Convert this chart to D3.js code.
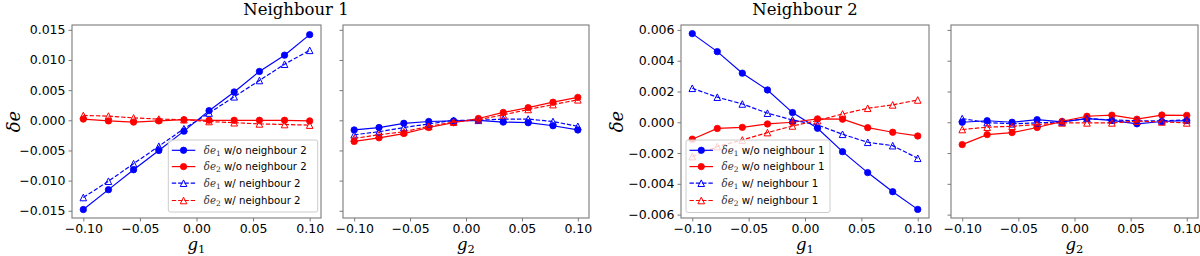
<!DOCTYPE html>
<html><head><meta charset="utf-8">
<script src="https://cdn.jsdelivr.net/npm/d3@7"></script>
<style>body{margin:0;background:#fff}svg{display:block}</style>
</head><body><svg id="c" width="1200" height="256"></svg>
<script>
// ---- data ----
const gValues = [-0.1, -0.0778, -0.0556, -0.0333, -0.0111, 0.0111, 0.0333, 0.0556, 0.0778, 0.1];
const xTicks = [-0.10, -0.05, 0.00, 0.05, 0.10];
const yTicksN1 = [-0.015, -0.010, -0.005, 0.000, 0.005, 0.010, 0.015];
const yTicksN2 = [-0.006, -0.004, -0.002, 0.000, 0.002, 0.004, 0.006];
const titles = ["Neighbour 1", "Neighbour 2"];

// Neighbour 1 vs g1
const n1g1_e1_wo = [-0.0148, -0.0115, -0.0082, -0.0050, -0.0018, 0.0016, 0.0047, 0.0081, 0.0108, 0.0142];
const n1g1_e2_wo = [0.0002, -0.0001, -0.0003, -0.0001, 0.0001, 0.0000, 0.0000, 0.0000, 0.0000, -0.0001];
const n1g1_e1_w  = [-0.0128, -0.0101, -0.0072, -0.0043, -0.0014, 0.0012, 0.0039, 0.0066, 0.0093, 0.0116];
const n1g1_e2_w  = [0.0008, 0.0007, 0.0004, 0.0002, 0.0001, -0.0002, -0.0004, -0.0006, -0.0007, -0.0008];
// Neighbour 1 vs g2
const n1g2_e1_wo = [-0.0016, -0.0012, -0.0005, -0.0002, -0.0001, 0.0000, -0.0003, -0.0004, -0.0009, -0.0016];
const n1g2_e2_wo = [-0.0035, -0.0029, -0.0022, -0.0012, -0.0004, 0.0003, 0.0013, 0.0021, 0.0030, 0.0038];
const n1g2_e1_w  = [-0.0024, -0.0019, -0.0012, -0.0006, 0.0000, 0.0000, 0.0002, 0.0002, -0.0002, -0.0010];
const n1g2_e2_w  = [-0.0030, -0.0024, -0.0019, -0.0010, -0.0003, 0.0001, 0.0009, 0.0018, 0.0026, 0.0034];
// Neighbour 2 vs g1
const n2g1_e1_wo = [0.00576, 0.00459, 0.00319, 0.00210, 0.00063, -0.00039, -0.00191, -0.00327, -0.00451, -0.00566];
const n2g1_e2_wo = [-0.00110, -0.00040, -0.00033, -0.00011, 0.00000, 0.00022, 0.00020, -0.00035, -0.00065, -0.00089];
const n2g1_e1_w  = [0.00221, 0.00163, 0.00119, 0.00059, 0.00015, -0.00017, -0.00078, -0.00130, -0.00152, -0.00234];
const n2g1_e2_w  = [-0.00223, -0.00158, -0.00115, -0.00067, -0.00024, 0.00011, 0.00054, 0.00091, 0.00113, 0.00145];
// Neighbour 2 vs g2
const n2g2_e1_wo = [0.00000, 0.00010, 0.00000, 0.00017, 0.00002, 0.00024, 0.00012, -0.00010, 0.00005, 0.00011];
const n2g2_e2_wo = [-0.00145, -0.00080, -0.00067, -0.00034, 0.00006, 0.00039, 0.00046, 0.00020, 0.00047, 0.00045];
const n2g2_e1_w  = [0.00024, -0.00002, -0.00010, -0.00004, 0.00002, 0.00025, 0.00015, 0.00010, 0.00010, 0.00015];
const n2g2_e2_w  = [-0.00047, -0.00032, -0.00026, -0.00015, -0.00004, -0.00004, -0.00004, 0.00007, 0.00002, -0.00004];

const legendLabelsN1 = [["e","1"," w/o neighbour 2"],["e","2"," w/o neighbour 2"],["e","1"," w/ neighbour 2"],["e","2"," w/ neighbour 2"]];
const legendLabelsN2 = [["e","1"," w/o neighbour 1"],["e","2"," w/o neighbour 1"],["e","1"," w/ neighbour 1"],["e","2"," w/ neighbour 1"]];

// ---- drawing ----
const svg = d3.select("#c");
const FRAME = "#7a7a7a";
const styles = [
  {color:"#0000ff", dash:null, marker:"circle"},
  {color:"#ff0000", dash:null, marker:"circle"},
  {color:"#0000ff", dash:"4.4,1.9", marker:"tri"},
  {color:"#ff0000", dash:"4.4,1.9", marker:"tri"}
];

function drawMarker(g, type, x, y, color){
  if(type==="circle"){
    g.append("circle").attr("cx",x).attr("cy",y).attr("r",3.2).attr("fill",color).attr("stroke",color).attr("stroke-width",0.8);
  } else {
    const h=3.3;
    g.append("path").attr("d",`M${x},${y-h}L${x+h},${y+h}L${x-h},${y+h}Z`)
      .attr("fill","none").attr("stroke",color).attr("stroke-width",1);
  }
}

const panels = [
  {x0:72, x1:321, yDom:[-0.0162,0.0158], yTicks:yTicksN1, showY:true, ylx:20, xsub:"1", series:[n1g1_e1_wo,n1g1_e2_wo,n1g1_e1_w,n1g1_e2_w], legend:legendLabelsN1, lg:{x:168.3,y:140,w:149.4,h:72}},
  {x0:343, x1:589, yDom:[-0.0162,0.0158], yTicks:yTicksN1, showY:false, xsub:"2", series:[n1g2_e1_wo,n1g2_e2_wo,n1g2_e1_w,n1g2_e2_w]},
  {x0:681, x1:929, yDom:[-0.00622,0.00632], yTicks:yTicksN2, showY:true, ylx:623, xsub:"1", series:[n2g1_e1_wo,n2g1_e2_wo,n2g1_e1_w,n2g1_e2_w], legend:legendLabelsN2, lg:{x:686,y:140,w:144,h:72.5}},
  {x0:951, x1:1198, yDom:[-0.00622,0.00632], yTicks:yTicksN2, showY:false, xsub:"2", series:[n2g2_e1_wo,n2g2_e2_wo,n2g2_e1_w,n2g2_e2_w]}
];
const Y0=25, Y1=218;

panels.forEach(p=>{
  const x = d3.scaleLinear().domain([-0.11,0.11]).range([p.x0,p.x1]);
  const y = d3.scaleLinear().domain(p.yDom).range([Y1,Y0]);
  const g = svg.append("g");

  const xa = g.append("g").attr("transform",`translate(0,${Y1})`)
    .call(d3.axisBottom(x).tickValues(xTicks).tickFormat(d3.format(".2f")).tickSize(3.5).tickPadding(3));
  xa.select(".domain").remove();
  xa.selectAll("line").attr("stroke",FRAME);
  xa.selectAll("text").attr("font-family","DejaVu Sans").attr("font-size",12.5).attr("fill","#000");
  const ya = g.append("g").attr("transform",`translate(${p.x0},0)`)
    .call(d3.axisLeft(y).tickValues(p.yTicks).tickFormat(p.showY?d3.format(".3f"):()=>"").tickSize(3.5).tickPadding(3));
  ya.select(".domain").remove();
  ya.selectAll("line").attr("stroke",FRAME);
  ya.selectAll("text").attr("font-family","DejaVu Sans").attr("font-size",12.5).attr("fill","#000");

  const line = d3.line().x((d,i)=>x(gValues[i])).y(d=>y(d));
  p.series.forEach((s,k)=>{
    const st = styles[k];
    g.append("path").datum(s).attr("d",line).attr("fill","none")
      .attr("stroke",st.color).attr("stroke-width",1.2)
      .attr("stroke-dasharray",st.dash);
    s.forEach((v,i)=>drawMarker(g, st.marker, x(gValues[i]), y(v), st.color));
  });

  g.append("rect").attr("x",p.x0).attr("y",Y0).attr("width",p.x1-p.x0).attr("height",Y1-Y0)
    .attr("fill","none").attr("stroke",FRAME).attr("stroke-width",1.1);

  const xl = g.append("text").attr("x",(p.x0+p.x1)/2).attr("y",250).attr("text-anchor","middle")
    .attr("font-family","DejaVu Serif").attr("font-style","italic").attr("font-size",16.5);
  xl.append("tspan").text("g");
  xl.append("tspan").attr("font-size",11.5).attr("font-style","normal").attr("dy",2.5).text(p.xsub);

  if(p.showY){
    g.append("text").attr("transform",`translate(${p.ylx},${(Y0+Y1)/2}) rotate(-90)`)
      .attr("text-anchor","middle").attr("font-family","DejaVu Serif").attr("font-style","italic")
      .attr("font-size",18).text("δe");
  }

  if(p.legend){
    const L = p.lg;
    const lg = g.append("g");
    lg.append("rect").attr("x",L.x).attr("y",L.y).attr("width",L.w).attr("height",L.h).attr("rx",2)
      .attr("fill","#fff").attr("fill-opacity",0.8).attr("stroke","#cccccc").attr("stroke-width",1);
    const rows = [10.3, 26.6, 43.2, 60.5];
    p.legend.forEach((lab,k)=>{
      const st = styles[k];
      const ry = L.y + rows[k];
      const hx = L.x + 3.5;
      lg.append("line").attr("x1",hx).attr("x2",hx+23.5).attr("y1",ry).attr("y2",ry)
        .attr("stroke",st.color).attr("stroke-width",1.2).attr("stroke-dasharray",st.dash);
      drawMarker(lg, st.marker, hx+11.75, ry, st.color);
      const t = lg.append("text").attr("x",hx+32).attr("y",ry+3.6)
        .attr("font-family","DejaVu Sans").attr("font-size",10.2).attr("fill","#000");
      t.append("tspan").attr("font-family","DejaVu Serif").attr("font-style","italic").attr("fill","#333").text("δ"+lab[0]);
      t.append("tspan").attr("font-family","DejaVu Serif").attr("font-size",7.5).attr("fill","#333").attr("dy",2).text(lab[1]);
      t.append("tspan").attr("dy",-2).text(lab[2]);
    });
  }
});

[[296,titles[0]],[805,titles[1]]].forEach(([cx,t])=>{
  svg.append("text").attr("x",cx).attr("y",15).attr("text-anchor","middle")
    .attr("font-family","DejaVu Serif").attr("font-size",16.5).attr("fill","#000").text(t);
});
</script></body></html>
